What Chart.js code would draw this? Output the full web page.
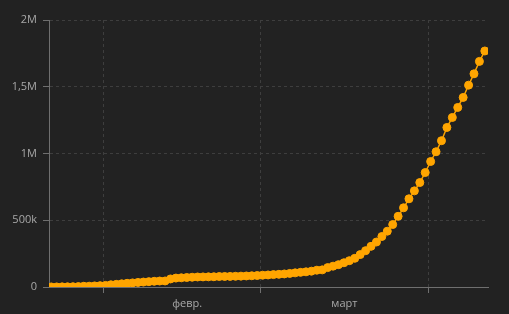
<!DOCTYPE html>
<html>
<head>
<meta charset="utf-8">
<script src="https://cdn.jsdelivr.net/npm/chart.js@4.4.1/dist/chart.umd.min.js"></script>
<style>
    html, body { margin: 0; padding: 0; background: #222222; }
    #wrap { width: 509px; height: 314px; }
</style>
</head>
<body>
<div id="wrap"><canvas id="casesChart" width="509" height="314"></canvas></div>
<script>
// Daily cumulative totals, one per day starting at startDate
const startDate = "2020-01-22";
const cases = [
    555, 654, 941, 1434, 2118, 2927, 5578, 6166, 8234, 9927,
    12038, 16787, 19881, 23892, 27635, 30794, 34391, 37120, 40150, 42762,
    44802, 45221, 60368, 66885, 69030, 71224, 73258, 75136, 75639, 76197,
    76819, 78572, 78958, 79561, 80406, 81388, 82746, 84112, 86011,
    88369, 90306, 92840, 95120, 97886, 101801, 105847, 109821, 113590, 118620,
    125875, 128352, 145205, 156101, 167454, 181574, 197102, 214821, 242570, 272208,
    304507, 336953, 378235, 418045, 467653, 529591, 593291, 660706, 720117, 782365,
    857487,
    940000, 1013000, 1096000, 1195000, 1270000, 1345000, 1420000, 1512000, 1597000, 1690000,
    1768000
];

// X axis: month boundaries and their labels
const monthTickDates = ["2020-02-01", "2020-03-01", "2020-04-01"];
const monthTickLabels = ["февр.", "март", ""];
const axisEndDate = "2020-04-12";

// Y axis ticks
const yTickValues = [0, 500000, 1000000, 1500000, 2000000];
const yTickLabels = ["0", "500k", "1M", "1,5M", "2M"];

const DAY = 86400000;
const toMs = s => Date.parse(s + "T00:00:00Z");
const startMs = toMs(startDate);

// points are stamped a bit after midnight
const points = cases.map((v, i) => ({ x: startMs + i * DAY + 10 * 3600000, y: v }));

const ORANGE = "#ffa500";
const GRID = "#3e3e3e";
const AXIS = "#6f6f6f";
const TEXT = "#a8a8a8";

const ctx = document.getElementById("casesChart").getContext("2d");
new Chart(ctx, {
    type: "line",
    data: {
        datasets: [{
            data: points,
            borderColor: ORANGE,
            borderWidth: 1.5,
            backgroundColor: ORANGE,
            pointRadius: 4,
            pointBorderWidth: 1,
            pointBorderColor: ORANGE,
            pointBackgroundColor: ORANGE,
            tension: 0,
            fill: false
        }]
    },
    options: {
        responsive: false,
        animation: false,
        events: [],
        layout: { padding: { top: 20, right: 21, left: 0, bottom: 0 } },
        plugins: {
            legend: { display: false },
            tooltip: { enabled: false }
        },
        scales: {
            x: {
                type: "linear",
                min: startMs,
                max: toMs(axisEndDate),
                afterBuildTicks: s => { s.ticks = monthTickDates.map(d => ({ value: toMs(d) })); },
                afterFit: s => { s.height = 27; },
                ticks: {
                    autoSkip: false,
                    maxRotation: 0,
                    labelOffset: 84,
                    padding: 4,
                    color: TEXT,
                    font: { family: "'Open Sans', sans-serif", size: 11 },
                    callback: (v, i) => monthTickLabels[i]
                },
                grid: {
                    color: GRID,
                    tickColor: AXIS,
                    tickLength: 6,
                    tickBorderDash: []
                },
                border: { display: true, color: AXIS, width: 1, dash: [3, 3] }
            },
            y: {
                min: 0,
                max: 2000000,
                afterBuildTicks: s => { s.ticks = yTickValues.map(v => ({ value: v })); },
                afterFit: s => { s.width = 49; },
                ticks: {
                    padding: 6,
                    color: TEXT,
                    font: { family: "'Open Sans', sans-serif", size: 11 },
                    callback: (v, i) => yTickLabels[i]
                },
                grid: {
                    color: c => (c.tick && c.tick.value === 0 ? "rgba(0,0,0,0)" : GRID),
                    tickColor: AXIS,
                    tickLength: 6,
                    tickBorderDash: []
                },
                border: { display: true, color: AXIS, width: 1, dash: [3, 3] }
            }
        }
    }
});
</script>
</body>
</html>
